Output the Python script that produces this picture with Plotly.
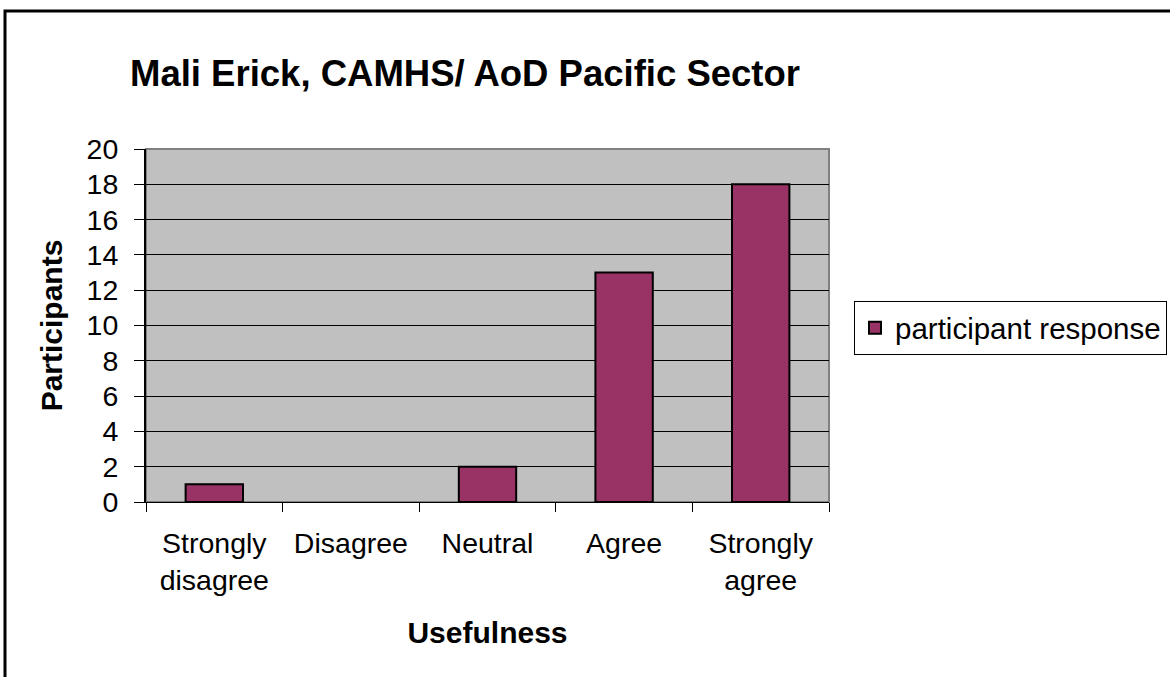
import plotly.graph_objects as go

# Survey responses: how useful participants found the session
categories = ["Strongly disagree", "Disagree", "Neutral", "Agree", "Strongly agree"]
tick_labels = ["Strongly<br>disagree", "Disagree", "Neutral", "Agree", "Strongly<br>agree"]
participants = [1, 0, 2, 13, 18]
y_ticks = list(range(0, 21, 2))

FONT = "Arial, Liberation Sans, sans-serif"
W, H = 1170, 677
L, R, T, B = 146, W - 829, 149, H - 502
PW, PH = W - L - R, H - T - B


def px_x(p):
    return (p - L) / PW


def px_y(p):
    return (H - B - p) / PH


# empty categories get no outline
outline_widths = [2 if v > 0 else 0 for v in participants]

fig = go.Figure()
fig.add_trace(go.Bar(
    x=categories,
    y=participants,
    name="participant response",
    marker=dict(color="#993366", line=dict(color="#000000", width=outline_widths)),
))

fig.update_layout(
    width=W,
    height=H,
    margin=dict(l=L, r=R, t=T, b=B, pad=0, autoexpand=False),
    paper_bgcolor="#FFFFFF",
    plot_bgcolor="#C0C0C0",
    font=dict(family=FONT, color="#000000", size=28.5),
    bargap=0.58,
    showlegend=True,
    title=dict(
        text="<b>Mali Erick, CAMHS/ AoD Pacific Sector</b>",
        font=dict(family=FONT, size=36.5, color="#000000"),
        x=465 / W, xanchor="center", xref="container",
        y=1 - 73 / H, yanchor="middle", yref="container",
    ),
    legend=dict(
        x=px_x(854), xanchor="left",
        y=px_y(301), yanchor="top",
        bgcolor="#FFFFFF",
        bordercolor="#000000",
        borderwidth=1,
        font=dict(family=FONT, size=29.5, color="#000000"),
        itemwidth=30,
    ),
    xaxis=dict(
        tickvals=categories,
        ticktext=tick_labels,
        tickson="boundaries",
        ticks="outside",
        ticklen=9,
        tickwidth=1,
        tickcolor="#000000",
        showline=True,
        linecolor="#000000",
        linewidth=1,
        showgrid=False,
        tickfont=dict(family=FONT, size=28.5),
        ticklabelstandoff=16,
        title=dict(text="<b>Usefulness</b>", font=dict(family=FONT, size=30), standoff=26),
    ),
    yaxis=dict(
        range=[0, 20],
        tickvals=y_ticks,
        ticks="outside",
        ticklen=10,
        tickwidth=1,
        tickcolor="#000000",
        showline=True,
        linecolor="#000000",
        linewidth=2,
        showgrid=True,
        gridcolor="#000000",
        gridwidth=1,
        zeroline=False,
        tickfont=dict(family=FONT, size=28.5),
        ticklabelstandoff=10,
        title=dict(text="<b>Participants</b>", font=dict(family=FONT, size=30), standoff=15),
    ),
    shapes=[
        # gray frame around the plotting area (top and right edges)
        dict(type="rect", xref="paper", yref="paper", x0=0, x1=1, y0=0, y1=1,
             line=dict(color="#808080", width=2), layer="below"),
        # outer chart border
        dict(type="rect", xref="paper", yref="paper",
             x0=px_x(5), x1=px_x(1185), y0=px_y(700), y1=px_y(11),
             line=dict(color="#000000", width=3), fillcolor="rgba(0,0,0,0)"),
    ],
)

fig.write_html("out.html")
